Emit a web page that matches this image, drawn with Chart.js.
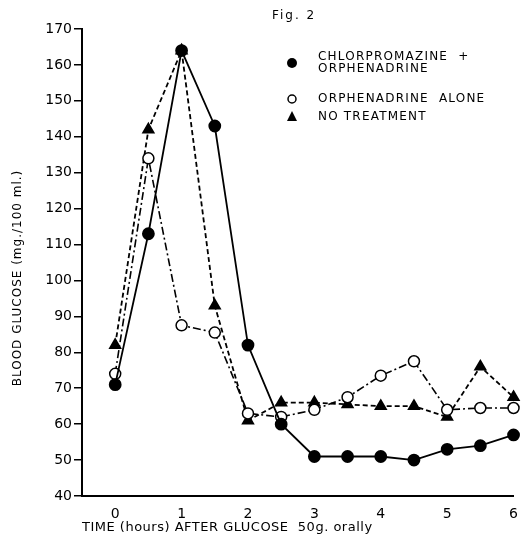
<!DOCTYPE html>
<html><head><meta charset="utf-8">
<script src="https://cdn.jsdelivr.net/npm/chart.js@4/dist/chart.umd.min.js"></script>
<style>html,body{margin:0;padding:0;background:#fff}#wrap{width:528px;height:536px}</style>
</head><body><div id="wrap"><canvas id="c" width="528" height="536"></canvas></div>
<script>
const hours = [0, 0.5, 1, 1.5, 2, 2.5, 3, 3.5, 4, 4.5, 5, 5.5, 6];
const chlorOrph = [71, 113, 164, 143, 82, 60, 51, 51, 51, 50, 53, 54, 57];
const orphAlone = [74, 134, 87.5, 85.5, 63, 62, 64, 67.5, 73.5, 77.5, 64, 64.5, 64.5];
const noTreatment = [82, 142, 164, 93, 61, 66, 66, 65.5, 65, 65, 62, 76, 67.5];
const seriesNames = [["CHLORPROMAZINE  +", "ORPHENADRINE"], ["ORPHENADRINE  ALONE"], ["NO TREATMENT"]];
const yTitle = "BLOOD GLUCOSE (mg./100 ml.)";
const xTitle = "TIME (hours) AFTER GLUCOSE  50g. orally";
const figTitle = "Fig. 2";

const pts = arr => arr.map((v, i) => ({x: hours[i], y: v}));
const FONT = "'DejaVu Sans', sans-serif";

const decor = {
  id: 'decor',
  afterDraw(chart) {
    const ctx = chart.ctx;
    ctx.save();
    ctx.fillStyle = '#000';
    ctx.textBaseline = 'middle';
    ctx.font = "12px " + FONT;
    ctx.letterSpacing = "2px";
    ctx.textAlign = 'left';
    ctx.fillText(figTitle, 272, 16);
    ctx.font = "12px " + FONT;
    ctx.letterSpacing = "1.2px";
    ctx.fillText(seriesNames[0][0], 318, 57);
    ctx.fillText(seriesNames[0][1], 318, 69);
    ctx.fillText(seriesNames[1][0], 318, 99);
    ctx.fillText(seriesNames[2][0], 318, 117);
    ctx.beginPath(); ctx.arc(292, 63, 5, 0, Math.PI * 2); ctx.fill();
    ctx.beginPath(); ctx.arc(292, 99, 4, 0, Math.PI * 2); ctx.lineWidth = 1.5; ctx.strokeStyle = '#000'; ctx.stroke();
    ctx.beginPath(); ctx.moveTo(292, 111); ctx.lineTo(297, 121); ctx.lineTo(287, 121); ctx.closePath(); ctx.fill();
    ctx.font = "13px " + FONT;
    ctx.letterSpacing = "0.5px";
    ctx.fillText(xTitle, 82, 528);
    ctx.translate(18, 278);
    ctx.rotate(-Math.PI / 2);
    ctx.textAlign = 'center';
    ctx.font = "12px " + FONT;
    ctx.letterSpacing = "1px";
    ctx.fillText(yTitle, 0, 0);
    ctx.restore();
  }
};

new Chart(document.getElementById('c'), {
  type: 'line',
  data: {
    datasets: [
      {label: seriesNames[0].join(' '), data: pts(chlorOrph), borderColor: '#000', backgroundColor: '#000',
       borderWidth: 1.8, pointStyle: 'circle', pointRadius: 5.5, pointBackgroundColor: '#000', pointBorderColor: '#000', tension: 0},
      {label: seriesNames[1][0], data: pts(orphAlone), borderColor: '#000', borderWidth: 1.6, borderDash: [8, 3, 2, 3],
       pointStyle: 'circle', pointRadius: 5.5, pointBackgroundColor: '#fff', pointBorderColor: '#000', pointBorderWidth: 1.5, tension: 0},
      {label: seriesNames[2][0], data: pts(noTreatment), borderColor: '#000', borderWidth: 1.8, borderDash: [5, 3],
       pointStyle: 'triangle', pointRadius: 6, pointBackgroundColor: '#000', pointBorderColor: '#000', tension: 0}
    ]
  },
  options: {
    responsive: false,
    animation: false,
    clip: false,
    layout: {padding: {top: 29, right: 12, left: 0, bottom: 0}},
    plugins: {legend: {display: false}, tooltip: {enabled: false}},
    scales: {
      x: {
        type: 'linear', min: -0.5, max: 6,
        afterFit(s) { s.height = 40; },
        afterBuildTicks(s) { s.ticks = hours.filter(h => Number.isInteger(h)).map(v => ({value: v})); },
        ticks: {color: '#000', font: {family: FONT, size: 14}, padding: 10},
        grid: {drawOnChartArea: false, drawTicks: false},
        border: {display: true, color: '#000', width: 2}
      },
      y: {
        min: 40, max: 170,
        afterFit(s) { s.width = 82; },
        ticks: {stepSize: 10, color: '#000', font: {family: FONT, size: 14}, padding: 2},
        grid: {drawOnChartArea: false, drawTicks: true, tickLength: 8, color: '#000', lineWidth: 1.5},
        border: {display: true, color: '#000', width: 2}
      }
    }
  },
  plugins: [decor]
});
</script></body></html>
